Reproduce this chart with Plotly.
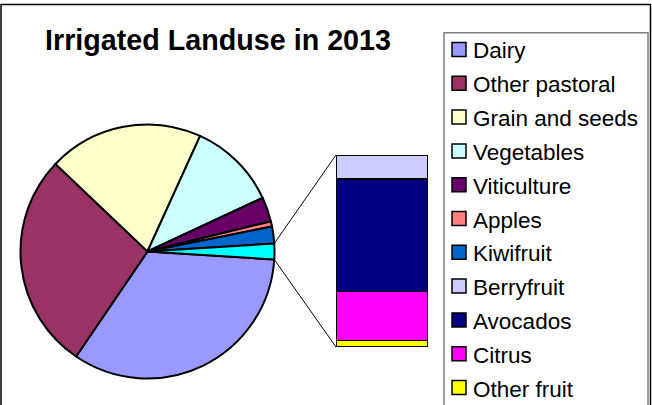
import math
import plotly.graph_objects as go

# ---------------- data ----------------
pie_labels = ["Dairy", "Other pastoral", "Grain and seeds", "Vegetables",
              "Viticulture", "Apples", "Kiwifruit"]
pie_values = [33.5, 27.6, 19.7, 11.25, 3.15, 0.65, 2.15]
bar_labels = ["Berryfruit", "Avocados", "Citrus", "Other fruit"]
bar_values = [0.25, 1.17, 0.51, 0.07]
title_text = "Irrigated Landuse in 2013"

pie_colors = ["#9999FF", "#993366", "#FFFFCC", "#CCFFFF", "#660066", "#FF8080", "#0066CC"]
other_color = "#00FFFF"
bar_colors = ["#CCCCFF", "#000080", "#FF00FF", "#FFFF00"]

# ---------------- geometry (window pixels) ----------------
W, H = 652, 405
FONT = "Liberation Sans, Arial, sans-serif"

def px(x):
    return x / W

def py(y):
    return 1 - y / H

pie_cx, pie_cy, pie_r = 147.5, 251.5, 127.0
bar_left, bar_right, bar_top, bar_bottom = 336.0, 428.0, 155.0, 347.0

other_total = sum(bar_values)
all_vals = pie_values + [other_total]
total = sum(all_vals)
other_deg = other_total / total * 360.0
rotation = 90 + other_deg / 2  # centre the "other" slice at 3 o'clock

fig = go.Figure()

fig.add_trace(go.Pie(
    labels=pie_labels + ["Other"],
    values=all_vals,
    sort=False,
    direction="clockwise",
    rotation=rotation,
    marker=dict(colors=pie_colors + [other_color], line=dict(color="black", width=2)),
    textinfo="none",
    hoverinfo="label+percent",
    showlegend=False,
    domain=dict(x=[px(pie_cx - pie_r), px(pie_cx + pie_r)],
                y=[py(pie_cy + pie_r), py(pie_cy - pie_r)]),
))

# stacked bar: bottom first
for lab, val, col in reversed(list(zip(bar_labels, bar_values, bar_colors))):
    fig.add_trace(go.Bar(
        x=[0], y=[val], name=lab, width=1,
        marker=dict(color=col, line=dict(color="black", width=1.5)),
        showlegend=False, hoverinfo="name+y",
    ))

shapes = []
# outer chart border
shapes.append(dict(type="rect", xref="paper", yref="paper",
                   x0=px(1), x1=px(650.5), y0=py(420), y1=py(4.5),
                   line=dict(color="black", width=1.5), layer="above"))

# connector lines computed from the pie geometry
def edge_point(clock_deg):
    th = math.radians(90 - clock_deg)
    return pie_cx + pie_r * math.cos(th), pie_cy - pie_r * math.sin(th)

ux, uy = edge_point(rotation - other_deg)
lx, ly = edge_point(rotation)
shapes.append(dict(type="line", xref="paper", yref="paper",
                   x0=px(ux), y0=py(uy), x1=px(bar_left), y1=py(bar_top),
                   line=dict(color="black", width=1)))
shapes.append(dict(type="line", xref="paper", yref="paper",
                   x0=px(lx), y0=py(ly), x1=px(bar_left), y1=py(bar_bottom),
                   line=dict(color="black", width=1)))

# legend box
leg_left, leg_right, leg_top = 444.0, 648.0, 32.7
shapes.append(dict(type="rect", xref="paper", yref="paper",
                   x0=px(leg_left), x1=px(leg_right), y0=py(430), y1=py(leg_top),
                   line=dict(color="#808080", width=1.5)))

annotations = [dict(text="<b>" + title_text + "</b>", xref="paper", yref="paper",
                    x=px(218), y=py(40), xanchor="center", yanchor="middle",
                    showarrow=False, font=dict(family=FONT, size=28.7, color="black"))]

legend_labels = pie_labels + bar_labels
legend_colors = pie_colors + bar_colors
sq = 14.0
first_c, step = 49.5, 33.8
for i, (lab, col) in enumerate(zip(legend_labels, legend_colors)):
    c = first_c + step * i
    shapes.append(dict(type="rect", xref="paper", yref="paper",
                       x0=px(452), x1=px(452 + sq), y0=py(c + sq / 2), y1=py(c - sq / 2),
                       fillcolor=col, line=dict(color="black", width=1.5)))
    annotations.append(dict(text=lab, xref="paper", yref="paper",
                            x=px(470.5), y=py(c + 1.5), xanchor="left", yanchor="middle",
                            showarrow=False,
                            font=dict(family=FONT, size=22.5, color="black")))

fig.update_layout(
    width=W, height=H,
    margin=dict(l=0, r=0, t=0, b=0),
    paper_bgcolor="white", plot_bgcolor="rgba(0,0,0,0)",
    barmode="stack",
    xaxis=dict(domain=[px(bar_left), px(bar_right)], range=[-0.5, 0.5], visible=False,
               fixedrange=True),
    yaxis=dict(domain=[py(bar_bottom), py(bar_top)], range=[0, other_total], visible=False,
               fixedrange=True),
    shapes=shapes,
    annotations=annotations,
    showlegend=False,
)

fig.write_html("out.html",
               config={"displayModeBar": False},
               post_script="document.body.style.margin='0';document.body.style.overflow='hidden';")
